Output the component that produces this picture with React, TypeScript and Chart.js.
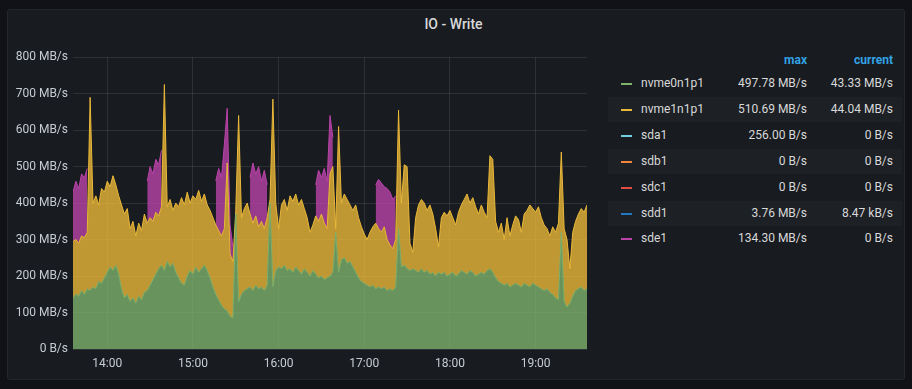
import React, { useEffect, useRef } from "react";
import { Chart, registerables } from "chart.js";

Chart.register(...registerables);

// x positions: minutes after 13:36, one sample every 2 minutes
const MINUTES: number[] = Array.from({ length: 181 }, (_, i) => i * 2);

const X_TICKS = [24, 84, 144, 204, 264, 324];
const X_TICK_LABELS = ["14:00", "15:00", "16:00", "17:00", "18:00", "19:00"];

// MB/s
const NVME0N1P1 = [
  140, 150, 145, 160, 150, 165, 160, 170, 165, 185, 180, 195, 210, 225, 215, 230, 205, 165, 140, 150,
  130, 140, 125, 145, 135, 155, 160, 175, 190, 205, 220, 230, 215, 240, 225, 235, 210, 195, 180, 175,
  200, 215, 205, 225, 210, 220, 230, 215, 195, 170, 150, 135, 120, 110, 105, 90, 85, 370, 130, 150,
  160, 165, 170, 160, 175, 165, 170, 160, 175, 400, 170, 215, 225, 220, 230, 215, 220, 210, 225, 215,
  205, 220, 210, 200, 215, 205, 195, 200, 190, 195, 200, 210, 320, 210, 245, 250, 235, 240, 225, 210,
  195, 185, 180, 175, 170, 175, 165, 170, 165, 170, 160, 165, 160, 170, 330, 225, 230, 220, 215, 220,
  215, 210, 220, 210, 215, 205, 210, 200, 210, 205, 210, 200, 205, 210, 200, 205, 215, 210, 205, 215,
  210, 200, 205, 210, 205, 215, 220, 210, 195, 185, 180, 175, 180, 170, 175, 180, 175, 170, 180, 175,
  170, 180, 175, 170, 165, 160, 165, 155, 150, 140, 135, 320, 130, 115, 125, 145, 160, 165, 170, 160,
  165,
];

const NVME1N1P1 = [
  155, 150, 145, 150, 155, 155, 530, 230, 255, 210, 260, 235, 250, 220, 260, 220, 215, 230, 230, 235,
  200, 210, 185, 200, 190, 215, 185, 185, 160, 170, 145, 160, 510, 150, 185, 145, 190, 195, 235, 220,
  230, 185, 215, 185, 225, 185, 195, 180, 185, 190, 190, 190, 190, 220, 405, 170, 155, 10, 510, 210,
  225, 235, 200, 185, 190, 170, 180, 170, 185, 10, 515, 185, 105, 175, 180, 165, 200, 195, 200, 180,
  205, 165, 150, 120, 125, 160, 155, 170, 155, 135, 280, 290, 10, 400, 155, 175, 175, 155, 155, 185,
  165, 150, 135, 125, 150, 160, 180, 160, 155, 165, 140, 120, 115, 130, 325, 175, 275, 280, 75, 45,
  145, 185, 190, 190, 165, 190, 160, 130, 70, 155, 165, 165, 175, 150, 140, 170, 180, 200, 220, 185,
  205, 190, 165, 185, 170, 145, 310, 310, 155, 135, 165, 125, 180, 140, 165, 185, 180, 150, 190, 205,
  225, 205, 200, 220, 195, 180, 165, 155, 185, 180, 210, 220, 200, 185, 95, 175, 190, 205, 215, 215,
  230,
];

const N = null;
const SDE1 = [
  135, 160, 150, 170, 165, 175, N, N, N, N, N, N, N, N, N, N, N, N, N, N,
  N, N, N, N, N, N, 115, 140, 130, 145, 140, 155, N, N, N, N, N, N, N, N,
  N, N, N, N, N, N, N, N, N, N, 120, 170, 160, 230, 150, 80, 40, N, N, N,
  N, N, 100, 165, 115, 165, 110, 160, 90, N, N, N, N, N, N, N, N, N, N, N,
  N, N, N, N, N, 85, 140, 100, 150, 130, 160, 80, N, N, N, N, N, N, N, N,
  N, N, N, N, N, N, 105, 135, 135, 110, 140, 145, 135, 120, N, N, N, N, N, N,
  N, N, N, N, N, N, N, N, N, N, N, N, N, N, N, N, N, N, N, N,
  N, N, N, N, N, N, N, N, N, N, N, N, N, N, N, N, N, N, N, N,
  N, N, N, N, N, N, N, N, N, N, N, N, N, N, N, N, N, N, N, N,
  N,
];

const Y_MAX = 800;
const Y_STEP = 100;

// legend table
const LEGEND_NAMES = ["nvme0n1p1", "nvme1n1p1", "sda1", "sdb1", "sdc1", "sdd1", "sde1"];
const LEGEND_COLORS = ["#7EB26D", "#EAB839", "#6ED0E0", "#EF843C", "#E24D42", "#1F78C1", "#BA43A9"];
const LEGEND_MAX = ["497.78 MB/s", "510.69 MB/s", "256.00 B/s", "0 B/s", "0 B/s", "3.76 MB/s", "134.30 MB/s"];
const LEGEND_CURRENT = ["43.33 MB/s", "44.04 MB/s", "0 B/s", "0 B/s", "0 B/s", "8.47 kB/s", "0 B/s"];

const FONT = "Roboto, 'Noto Sans', sans-serif";
const TICK_COLOR = "#c7ccd4";
const GRID_COLOR = "rgba(204,204,220,0.12)";

function rgba(hex: string, a: number) {
  const n = parseInt(hex.slice(1), 16);
  return `rgba(${(n >> 16) & 255},${(n >> 8) & 255},${n & 255},${a})`;
}

function IOChart() {
  const ref = useRef<HTMLCanvasElement | null>(null);
  useEffect(() => {
    if (!ref.current) return;
    const chart = new Chart(ref.current, {
      type: "line",
      data: {
        labels: MINUTES,
        datasets: [
          {
            label: "nvme0n1p1",
            data: NVME0N1P1,
            borderColor: LEGEND_COLORS[0],
            backgroundColor: rgba(LEGEND_COLORS[0], 0.8),
            fill: "origin",
          },
          {
            label: "nvme1n1p1",
            data: NVME1N1P1,
            borderColor: LEGEND_COLORS[1],
            backgroundColor: rgba(LEGEND_COLORS[1], 0.8),
            fill: "-1",
          },
          {
            label: "sde1",
            data: SDE1 as any,
            borderColor: LEGEND_COLORS[6],
            backgroundColor: rgba(LEGEND_COLORS[6], 0.8),
            fill: "-1",
          },
        ],
      },
      options: {
        animation: false,
        responsive: false,
        maintainAspectRatio: false,
        elements: {
          point: { radius: 0 },
          line: { borderWidth: 1, tension: 0 },
        },
        layout: { padding: { top: 8.5, right: 10, left: 0, bottom: 0 } },
        plugins: {
          legend: { display: false },
          tooltip: { enabled: false },
          title: { display: false },
        },
        scales: {
          x: {
            type: "linear",
            min: 0,
            max: 360,
            afterBuildTicks: (s: any) => {
              s.ticks = X_TICKS.map((v) => ({ value: v }));
            },
            afterFit: (s: any) => {
              s.height = 24;
            },
            ticks: {
              autoSkip: false,
              maxRotation: 0,
              padding: 8,
              color: TICK_COLOR,
              font: { family: FONT, size: 12 },
              callback: (v: any) => {
                const k = X_TICKS.indexOf(Number(v));
                return k >= 0 ? X_TICK_LABELS[k] : "";
              },
            },
            grid: { color: GRID_COLOR, drawTicks: false },
            border: { display: false },
          },
          y: {
            stacked: true,
            min: 0,
            max: Y_MAX,
            afterFit: (s: any) => {
              s.width = 66;
            },
            ticks: {
              stepSize: Y_STEP,
              padding: 5,
              color: TICK_COLOR,
              font: { family: FONT, size: 12 },
              callback: (v: any) => (Number(v) === 0 ? "0 B/s" : `${v} MB/s`),
            },
            grid: { color: GRID_COLOR, drawTicks: false },
            border: { display: false },
          },
        },
      },
    });
    return () => chart.destroy();
  }, []);
  return (
    <canvas
      ref={ref}
      width={590}
      height={328}
      style={{ position: "absolute", left: 7, top: 45, width: 590, height: 328 }}
    />
  );
}

export default function App() {
  const rowTop0 = 71;
  const rowH = 25.9;
  return (
    <div
      style={{
        position: "fixed",
        left: 0,
        top: 0,
        width: 912,
        height: 389,
        background: "#111217",
        fontFamily: FONT,
        overflow: "hidden",
      }}
    >
      <div
        style={{
          position: "absolute",
          left: 7,
          top: 9,
          width: 896,
          height: 369,
          background: "#181b1f",
          border: "1px solid #24262b",
          borderRadius: 3,
        }}
      />
      <div
        style={{
          position: "absolute",
          left: 0,
          width: 907,
          top: 15,
          textAlign: "center",
          color: "#d8d9da",
          fontSize: 14,
          fontWeight: 500,
          lineHeight: "18px",
        }}
      >
        IO - Write
      </div>
      <IOChart />
      <div
        style={{
          position: "absolute",
          left: 700,
          width: 107,
          top: 52,
          textAlign: "right",
          color: "#33a2e5",
          fontWeight: 700,
          fontSize: 12,
          lineHeight: "16px",
        }}
      >
        max
      </div>
      <div
        style={{
          position: "absolute",
          left: 800,
          width: 93,
          top: 52,
          textAlign: "right",
          color: "#33a2e5",
          fontWeight: 700,
          fontSize: 12,
          lineHeight: "16px",
        }}
      >
        current
      </div>
      {LEGEND_NAMES.map((name, i) => {
        const top = rowTop0 + i * rowH;
        return (
          <div
            key={name}
            style={{
              position: "absolute",
              left: 608,
              top,
              width: 294,
              height: 25,
              background: i % 2 === 1 ? "rgba(255,255,255,0.025)" : "transparent",
              color: "#d8d9da",
              fontSize: 12,
            }}
          >
            <div
              style={{
                position: "absolute",
                left: 13,
                top: 12,
                width: 11,
                height: 2,
                background: LEGEND_COLORS[i],
              }}
            />
            <div style={{ position: "absolute", left: 33, top: 4, lineHeight: "16px" }}>{name}</div>
            <div
              style={{
                position: "absolute",
                left: 90,
                width: 109,
                top: 4,
                lineHeight: "16px",
                textAlign: "right",
              }}
            >
              {LEGEND_MAX[i]}
            </div>
            <div
              style={{
                position: "absolute",
                left: 190,
                width: 95,
                top: 4,
                lineHeight: "16px",
                textAlign: "right",
              }}
            >
              {LEGEND_CURRENT[i]}
            </div>
          </div>
        );
      })}
    </div>
  );
}
